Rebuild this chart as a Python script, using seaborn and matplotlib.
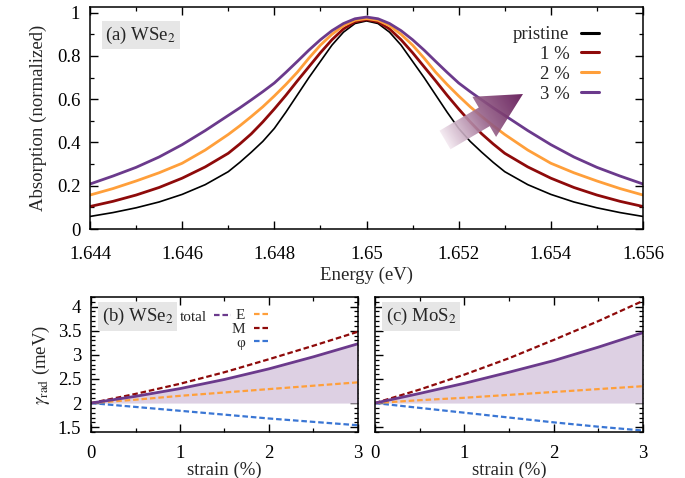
import matplotlib
matplotlib.use("Agg")
import matplotlib.pyplot as plt
import seaborn as sns
import numpy as np
from matplotlib.lines import Line2D
from matplotlib.patches import Polygon
from matplotlib.colors import LinearSegmentedColormap
from matplotlib.ticker import MultipleLocator, FormatStrFormatter

# ---- panel (a): normalized absorption vs energy ----
energy = [1.644, 1.6445, 1.645, 1.6455, 1.646, 1.6465, 1.647, 1.64725, 1.6475,
          1.64775, 1.648, 1.64825, 1.6485, 1.64875, 1.649, 1.64925, 1.6495,
          1.64975, 1.650, 1.65025, 1.6505, 1.65075, 1.651, 1.65125, 1.6515,
          1.65175, 1.652, 1.65225, 1.6525, 1.65275, 1.653, 1.6535, 1.654,
          1.6545, 1.655, 1.6555, 1.656]
pristine = [0.058, 0.076, 0.098, 0.125, 0.160, 0.205, 0.265, 0.308, 0.355,
            0.405, 0.465, 0.540, 0.620, 0.700, 0.775, 0.850, 0.910,
            0.950, 0.962, 0.950, 0.910, 0.850, 0.775, 0.700, 0.620,
            0.540, 0.465, 0.405, 0.355, 0.308, 0.265, 0.205, 0.160,
            0.125, 0.098, 0.076, 0.058]
strain1 = [0.104, 0.128, 0.157, 0.192, 0.235, 0.287, 0.350, 0.393, 0.440,
           0.495, 0.555, 0.618, 0.685, 0.750, 0.815, 0.875, 0.925,
           0.958, 0.968, 0.958, 0.925, 0.875, 0.815, 0.750, 0.685,
           0.618, 0.555, 0.495, 0.440, 0.393, 0.350, 0.287, 0.235,
           0.192, 0.157, 0.128, 0.104]
strain2 = [0.157, 0.187, 0.222, 0.260, 0.304, 0.365, 0.437, 0.477, 0.520,
           0.565, 0.615, 0.668, 0.725, 0.790, 0.850, 0.900, 0.940,
           0.965, 0.973, 0.965, 0.940, 0.900, 0.850, 0.790, 0.725,
           0.668, 0.615, 0.565, 0.520, 0.477, 0.437, 0.365, 0.304,
           0.260, 0.222, 0.187, 0.157]
strain3 = [0.208, 0.245, 0.285, 0.333, 0.390, 0.455, 0.525, 0.560, 0.597,
           0.635, 0.675, 0.724, 0.775, 0.827, 0.875, 0.917, 0.950,
           0.972, 0.980, 0.972, 0.950, 0.917, 0.875, 0.827, 0.775,
           0.724, 0.675, 0.635, 0.597, 0.560, 0.525, 0.455, 0.390,
           0.333, 0.285, 0.245, 0.208]
spectra_labels = ["pristine", "1 %", "2 %", "3 %"]

# ---- panels (b), (c): radiative linewidth vs strain ----
strain = [0, 0.5, 1, 1.5, 2, 2.5, 3]
wse2_total = [2.0, 2.14, 2.30, 2.49, 2.71, 2.96, 3.23]
wse2_E = [2.0, 2.07, 2.15, 2.22, 2.29, 2.36, 2.43]
wse2_M = [2.0, 2.19, 2.40, 2.64, 2.91, 3.19, 3.48]
wse2_phi = [2.0, 1.92, 1.84, 1.76, 1.68, 1.61, 1.54]
mos2_total = [2.0, 2.20, 2.41, 2.64, 2.88, 3.16, 3.46]
mos2_E = [2.0, 2.06, 2.11, 2.17, 2.23, 2.29, 2.35]
mos2_M = [2.0, 2.28, 2.59, 2.93, 3.31, 3.70, 4.12]
mos2_phi = [2.0, 1.90, 1.80, 1.70, 1.60, 1.51, 1.43]
gamma0 = 2.0

c_black = "black"
c_red = "#8e0a0a"
c_orange = "#ff9f3a"
c_purple = "#6b3a8c"
c_blue = "#3a76d4"
c_fill = "#ddd0e3"
dash = (0, (2.5, 1.3))

sns.set_style("ticks")
plt.rcParams["font.family"] = ["Liberation Serif", "DejaVu Serif"]
plt.rcParams["mathtext.fontset"] = "stix"
plt.rcParams["font.size"] = 13.5
plt.rcParams["axes.linewidth"] = 1.1

fig = plt.figure(figsize=(6.85, 4.78), dpi=100)
W, H = 685, 478


def px_axes(x0, y0, x1, y1):
    return fig.add_axes([x0 / W, 1 - y1 / H, (x1 - x0) / W, (y1 - y0) / H])


def style_ticks(ax, xpad):
    ax.tick_params(which="both", direction="in", top=True, right=True,
                   colors="black", labelsize=13.5)
    ax.tick_params(which="major", length=6, width=1.0)
    ax.tick_params(which="minor", length=3, width=0.9)
    ax.tick_params(axis="x", which="major", pad=xpad)
    ax.tick_params(axis="y", which="major", pad=7)
    for s in ax.spines.values():
        s.set_color("black")


# ---------------- top panel ----------------
ax = px_axes(90, 7.3, 643, 229)
for vals, col, lw in zip([pristine, strain1, strain2, strain3],
                         [c_black, c_red, c_orange, c_purple],
                         [1.2, 2.0, 2.0, 2.0]):
    sns.lineplot(x=energy, y=vals, ax=ax, color=col, linewidth=lw)
ax.set_xlim(1.644, 1.656)
ax.set_ylim(0, 1.025)
ax.xaxis.set_major_locator(MultipleLocator(0.002))
ax.xaxis.set_minor_locator(MultipleLocator(0.001))
ax.yaxis.set_major_locator(MultipleLocator(0.2))
ax.yaxis.set_minor_locator(MultipleLocator(0.1))
ax.xaxis.set_major_formatter(FormatStrFormatter("%g"))
ax.yaxis.set_major_formatter(FormatStrFormatter("%g"))
style_ticks(ax, 12)
ax.set_xlabel("Energy (eV)", labelpad=3)
ax.set_ylabel("Absorption (normalized)", labelpad=7)
ax.text(0.028, 0.875, r"(a) WSe$_2$", transform=ax.transAxes, va="center",
        ha="left", fontsize=13.5,
        bbox=dict(facecolor="#e6e6e6", edgecolor="none", pad=2.5))
spec_handles = [Line2D([], [], color=c, linewidth=2.2)
                for c in [c_black, c_red, c_orange, c_purple]]
ax.legend(spec_handles, spectra_labels, loc="upper right",
          bbox_to_anchor=(0.921, 0.915), frameon=False, markerfirst=False,
          handlelength=1.0, handletextpad=0.6, labelspacing=0.14,
          borderaxespad=0, borderpad=0, fontsize=13.5)

# ---------------- bottom panels ----------------
axb = px_axes(91, 297, 358, 432)
axc = px_axes(375, 297, 643, 432)
for a, tot, e, m, p, name in [(axb, wse2_total, wse2_E, wse2_M, wse2_phi, r"(b) WSe$_2$"),
                              (axc, mos2_total, mos2_E, mos2_M, mos2_phi, r"(c) MoS$_2$")]:
    a.fill_between(strain, gamma0, tot, color=c_fill, linewidth=0)
    sns.lineplot(x=strain, y=p, ax=a, color=c_blue, linewidth=1.6, linestyle=dash)
    sns.lineplot(x=strain, y=e, ax=a, color=c_orange, linewidth=1.6, linestyle=dash)
    sns.lineplot(x=strain, y=m, ax=a, color=c_red, linewidth=1.6, linestyle=dash)
    sns.lineplot(x=strain, y=tot, ax=a, color=c_purple, linewidth=2.0)
    a.set_xlim(0, 3)
    a.set_ylim(1.4, 4.2)
    a.xaxis.set_major_locator(MultipleLocator(1))
    a.xaxis.set_minor_locator(MultipleLocator(0.5))
    a.yaxis.set_major_locator(MultipleLocator(0.5))
    a.yaxis.set_minor_locator(MultipleLocator(0.1))
    a.xaxis.set_major_formatter(FormatStrFormatter("%g"))
    a.yaxis.set_major_formatter(FormatStrFormatter("%g"))
    style_ticks(a, 9)
    a.set_xlabel("strain (%)", labelpad=0)
    a.text(0.041, 0.855, name, transform=a.transAxes, va="center", ha="left",
           fontsize=13.5, bbox=dict(facecolor="#e6e6e6", edgecolor="none", pad=2.5))

axb.set_ylabel(r"$\gamma_{\rm rad}$ (meV)", labelpad=4)
axc.tick_params(labelleft=False)

h_total = Line2D([], [], color=c_purple, linewidth=1.6, linestyle=dash)
h_E = Line2D([], [], color=c_orange, linewidth=1.6, linestyle=dash)
h_M = Line2D([], [], color=c_red, linewidth=1.6, linestyle=dash)
h_phi = Line2D([], [], color=c_blue, linewidth=1.6, linestyle=dash)
leg1 = axb.legend([h_total], ["total"], loc="center right", bbox_to_anchor=(0.525, 0.852),
                  frameon=False, markerfirst=False, handlelength=1.1,
                  handletextpad=0.5, borderaxespad=0, borderpad=0, fontsize=11)
axb.add_artist(leg1)
axb.legend([h_E, h_M, h_phi], ["E", "M", "φ"], loc="upper right",
           bbox_to_anchor=(0.663, 0.915), frameon=False, markerfirst=False,
           handlelength=0.9, handletextpad=0.6, labelspacing=0.0,
           borderaxespad=0, borderpad=0, fontsize=11)

# ---------------- gradient arrow in (a) ----------------
ov = fig.add_axes([0, 0, 1, 1], facecolor="none")
ov.set_axis_off()
ov.set_zorder(10)
tail = np.array([445.0, 140.0])
tip = np.array([523.0, 94.0])
u = (tip - tail) / np.linalg.norm(tip - tail)
n = np.array([-u[1], u[0]])
hb, hh, hl = 10.8, 23.3, 45.0
base = tip - u * hl
pts = [tail + n * hb, base + n * hb, base + n * hh, tip,
       base - n * hh, base - n * hb, tail - n * hb]
poly = Polygon(pts, closed=True, facecolor="none", edgecolor="none",
               transform=ov.transData)
ov.add_patch(poly)
x0, x1, y0, y1 = 425, 535, 80, 165
gx, gy = np.meshgrid(np.linspace(x0, x1, 120), np.linspace(y0, y1, 100))
proj = ((gx - tail[0]) * u[0] + (gy - tail[1]) * u[1]) / np.linalg.norm(tip - tail)
cmap = LinearSegmentedColormap.from_list("arr", ["#f3e8f0", "#956088", "#5c0f50"])
im = ov.imshow(np.clip(proj, 0, 1), extent=(x0, x1, y0, y1), origin="lower",
               cmap=cmap, vmin=0, vmax=1, aspect="auto", alpha=0.9)
im.set_clip_path(poly)
ov.set_xlim(0, W)
ov.set_ylim(H, 0)

fig.savefig("out.png", dpi=100)
